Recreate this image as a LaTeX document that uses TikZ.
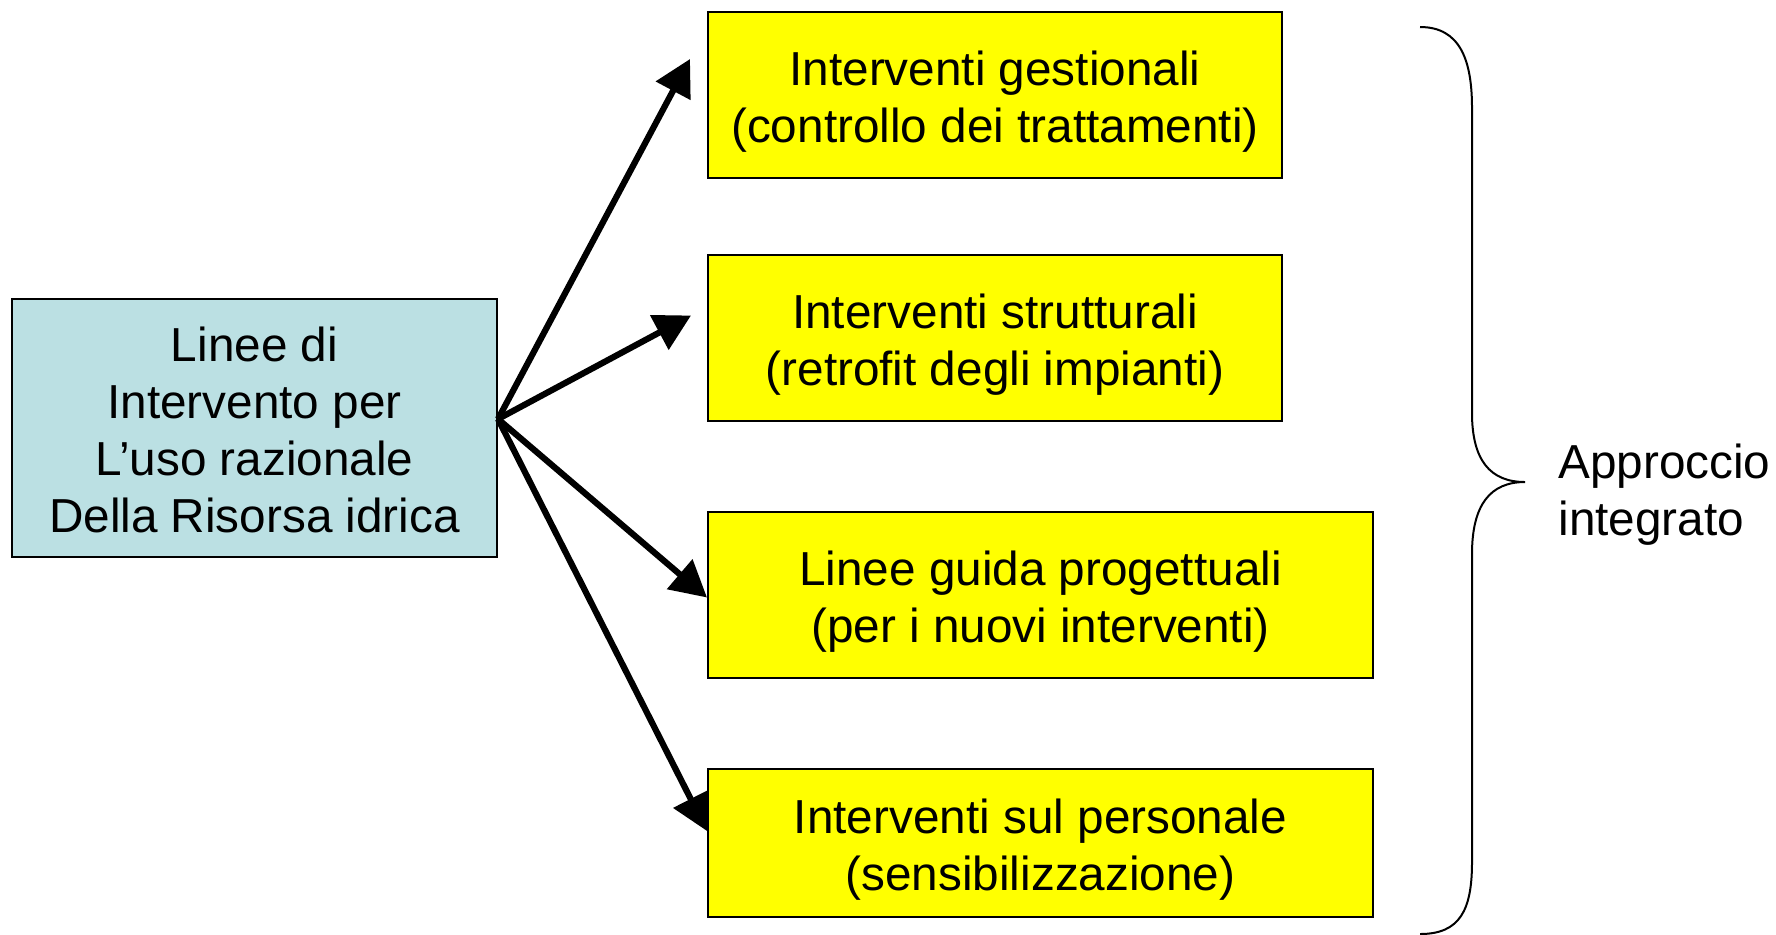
\documentclass[tikz,border=0pt]{standalone}
\usepackage{fontspec}
\setmainfont{Liberation Sans}
\usetikzlibrary{arrows.meta}
\definecolor{lightteal}{RGB}{187,224,227}
\definecolor{boxyellow}{RGB}{255,255,0}
\tikzstyle{source} = [rectangle, draw=black, line width=1pt, fill=lightteal, minimum width=242.5pt, minimum height=129pt, text height=104.8pt, align=center]
\tikzstyle{action} = [rectangle, draw=black, line width=1pt, fill=boxyellow, minimum height=83pt, text height=52.5pt, align=center]
\tikzstyle{arrow} = [line width=3.1pt,-{Triangle[length=18pt,width=19pt]}]
\tikzstyle{brace} = [line width=1pt]

\begin{document}
\begin{tikzpicture}[x=0.5pt, y=-0.5pt, font=\fontsize{23.85}{28.5}\selectfont]
		\useasboundingbox (0,0) rectangle (1776,934);
		\node (src) [source] at (254.5,428) {Linee di\\Intervento per\\L’uso razionale\\Della Risorsa idrica};
		\node (a1) [action, minimum width=287pt] at (995,95) {Interventi gestionali\\(controllo dei trattamenti)};
		\node (a2) [action, minimum width=287pt] at (995,337.5) {Interventi strutturali\\(retrofit degli impianti)};
		\node (a3) [action, minimum width=332.5pt] at (1040.5,594.5) {Linee guida progettuali\\(per i nuovi interventi)};
		\node (a4) [action, minimum width=332.5pt, minimum height=74pt] at (1040.5,843) {Interventi sul personale\\(sensibilizzazione)};
		\coordinate (hub) at ([yshift=4.5pt]src.east);

		\draw [arrow] (hub) -- ([xshift=-8.5pt, yshift=18pt]a1.west);
		\draw [arrow] (hub) -- ([xshift=-8pt, yshift=11pt]a2.west);
		\draw [arrow] (hub) -- ([yshift=-1.5pt]a3.west);
		\draw [arrow] (hub) -- ([yshift=6pt]a4.west);

		% brace
		\draw [brace] (1420,27) .. controls (1460,27) and (1472,60) .. (1472,108) -- (1472,413)
			.. controls (1472,460) and (1490,482) .. (1525,482)
			.. controls (1490,482) and (1472,505) .. (1472,554) -- (1472,862)
			.. controls (1472,910) and (1460,934) .. (1420,934);
		\node (appr) [anchor=west, inner sep=0pt, align=left] at (1558,495) {Approccio\\integrato};
\end{tikzpicture}
\end{document}
